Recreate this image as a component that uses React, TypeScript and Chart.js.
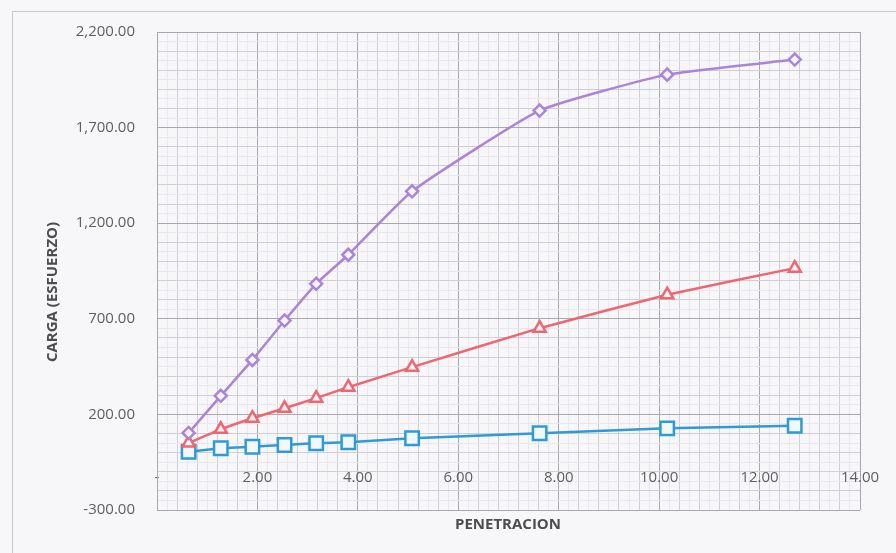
import React, { useEffect, useRef } from "react";
import { Chart, registerables } from "chart.js";

Chart.register(...registerables);

const penetracion = [0.63, 1.27, 1.9, 2.54, 3.17, 3.81, 5.08, 7.62, 10.16, 12.7];
const cargaAlta = [103, 297, 485, 691, 883, 1035, 1367, 1789, 1977, 2056];
const cargaMedia = [51, 122, 180, 232, 285, 342, 447, 651, 826, 965];
const cargaBaja = [5, 23, 31, 40, 49, 54, 75, 101, 127, 141];

const xTitle = "PENETRACION";
const yTitle = "CARGA (ESFUERZO)";
const xMin = 0;
const xMax = 14;
const yMin = -300;
const yMax = 2200;

const MAJOR = "#a8a8b2";
const MINOR = "#cfcfd8";
const FINE = "#e8e8ee";

const toPts = (ys: number[]) => penetracion.map((x, i) => ({ x, y: ys[i] }));

const fmt = (v: number) =>
  v.toLocaleString("en-US", { minimumFractionDigits: 2, maximumFractionDigits: 2 });

const isMult = (v: number, m: number) => Math.abs(v / m - Math.round(v / m)) < 1e-6;

export default function App() {
  const ref = useRef<HTMLCanvasElement | null>(null);

  useEffect(() => {
    document.body.style.margin = "0";
    const canvas = ref.current;
    if (!canvas) return;

    const frame = {
      id: "frame",
      beforeDraw(chart: any) {
        const c = chart.ctx;
        c.save();
        c.fillStyle = "#f7f7f9";
        c.fillRect(0, 0, chart.width, chart.height);
        c.strokeStyle = "#c9c9cf";
        c.lineWidth = 1;
        c.strokeRect(12.5, 11.5, 1000, 1000);
        c.restore();
      },
      afterDraw(chart: any) {
        const c = chart.ctx;
        c.save();
        c.fillStyle = "#4d4d4d";
        c.font = "bold 15px 'Open Sans'";
        c.textAlign = "center";
        c.textBaseline = "middle";
        c.fillText(xTitle, 508, 525);
        c.translate(53, 292);
        c.rotate(-Math.PI / 2);
        c.fillText(yTitle, 0, 0);
        c.restore();
      },
    };

    const chart = new Chart(canvas, {
      type: "line",
      data: {
        datasets: [
          {
            label: "Alta",
            data: toPts(cargaAlta),
            borderColor: "#ab84d8",
            backgroundColor: "#f7f5fb",
            borderWidth: 2.5,
            pointStyle: "rectRot",
            pointRadius: 6,
            pointBorderWidth: 2.5,
            tension: 0.15,
          },
          {
            label: "Media",
            data: toPts(cargaMedia),
            borderColor: "#ee6670",
            backgroundColor: "#fbf3f4",
            borderWidth: 2.5,
            pointStyle: "triangle",
            pointRadius: 7,
            pointBorderWidth: 2.5,
            tension: 0.1,
          },
          {
            label: "Baja",
            data: toPts(cargaBaja),
            borderColor: "#2f9ad6",
            backgroundColor: "#f2f7fb",
            borderWidth: 2.5,
            pointStyle: "rect",
            pointRadius: 9.5,
            pointBorderWidth: 2.5,
            tension: 0.1,
          },
        ],
      },
      options: {
        responsive: false,
        animation: false,
        layout: { padding: { left: 0, top: 32, right: 36, bottom: 43 } },
        plugins: {
          legend: { display: false },
          tooltip: { enabled: false },
        },
        scales: {
          x: {
            type: "linear",
            position: { y: 0 } as any,
            min: xMin,
            max: xMax,
            border: { display: false },
            grid: {
              drawTicks: false,
              color: (ctx: any) => {
                const v = ctx.tick.value;
                if (isMult(v, 2)) return MAJOR;
                if (isMult(v, 0.4)) return MINOR;
                return FINE;
              },
            },
            ticks: {
              stepSize: 0.2,
              autoSkip: false,
              maxRotation: 0,
              padding: 16,
              color: "#5f5f5f",
              font: { family: "'Open Sans'", size: 15 },
              callback: (v: any) => {
                const n = Number(v);
                if (!isMult(n, 2)) return "";
                if (Math.abs(n) < 1e-9) return "-";
                return fmt(n);
              },
            },
          },
          y: {
            type: "linear",
            min: yMin,
            max: yMax,
            afterFit: (s: any) => {
              s.width = 157;
            },
            border: { color: MAJOR },
            grid: {
              drawTicks: false,
              color: (ctx: any) => {
                const v = ctx.tick.value - yMin;
                if (isMult(v, 500)) return MAJOR;
                if (isMult(v, 100)) return MINOR;
                return FINE;
              },
            },
            ticks: {
              stepSize: 50,
              autoSkip: false,
              padding: 22,
              color: "#5f5f5f",
              font: { family: "'Open Sans'", size: 15 },
              callback: (v: any) => {
                const n = Number(v);
                if (!isMult(n - yMin, 500)) return "";
                return fmt(n);
              },
            },
          },
        },
      },
      plugins: [frame],
    });

    return () => chart.destroy();
  }, []);

  return (
    <div style={{ width: 896, height: 553 }}>
      <canvas ref={ref} width={896} height={553} />
    </div>
  );
}
